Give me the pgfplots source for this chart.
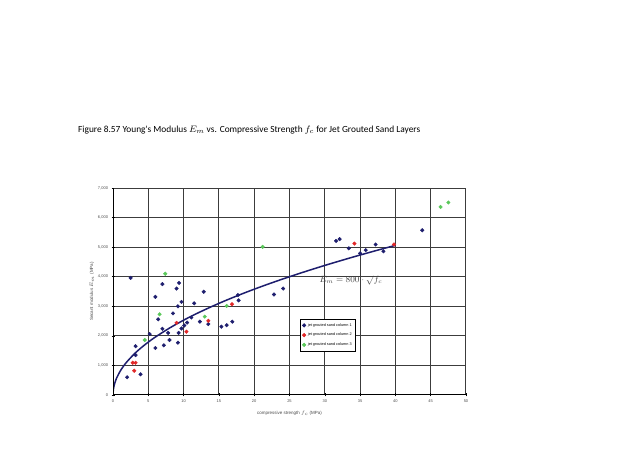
\documentclass[border=0pt]{standalone}
\usepackage{pgfplots}
\pgfplotsset{compat=1.18}
\usepackage{fontspec}
\setmainfont{Liberation Sans}
\newfontfamily\titlefont{Carlito}
\definecolor{navy}{RGB}{30,30,110}
\definecolor{cred}{RGB}{225,40,40}
\definecolor{cgreen}{RGB}{90,200,90}
\definecolor{gridgray}{RGB}{60,60,60}
\begin{document}
\begin{tikzpicture}
\fill[white] (0,0) rectangle (622bp,455bp);
\node[anchor=west,inner sep=0pt] at (78bp,325bp) {\resizebox{342bp}{!}{\titlefont\fontsize{8bp}{9bp}\selectfont Figure 8.57 Young's Modulus $E_{m}$ vs. Compressive Strength $f_c$ for Jet Grouted Sand Layers}};
\begin{axis}[
  at={(113bp,60bp)}, anchor=south west,
  width=353bp, height=207bp, scale only axis,
  xmin=0, xmax=50, ymin=0, ymax=7000,
  xtick={0,5,...,50}, ytick={0,1000,...,7000},
  axis line style={gridgray, line width=1bp},
  xmajorgrids=true, ymajorgrids=true,
  major grid style={gridgray, line width=1bp},
  tick style={black, line width=0.5bp}, tick align=center,
  major tick length=3bp,
  xtick pos=bottom, ytick pos=left,
  /pgf/number format/assume math mode=true,
  /pgf/number format/1000 sep={,},
  ticklabel style={font=\fontsize{4bp}{5bp}\selectfont, text=black!70},
  xlabel={compressive strength $f_c$ (MPa)},
  ylabel={Secant modulus $E_{m}$ (MPa)},
  label style={font=\fontsize{4.5bp}{5.5bp}\selectfont, text=black!70},
  xlabel style={at={(axis description cs:0.5,-0.087)}, anchor=center},
  ylabel style={at={(axis description cs:-0.06,0.5)}, anchor=center},
  legend style={at={(0.53,0.367)}, anchor=north west, font=\fontsize{3.8bp}{4.5bp}\selectfont,
    draw=black, line width=0.5bp, inner sep=2bp, row sep=1.5bp, fill=white},
  legend cell align=left,
]
\addplot[only marks, mark=*, mark size=1.8bp, color=navy] coordinates {
(2.5,3960) (2.0,600) (3.9,700) (3.2,1650) (3.2,1350) (5.2,2060) (6.0,1590) (6.0,3320)
(6.4,2560) (7.0,3750) (7.0,2240) (7.2,1680) (8.0,1860) (7.8,2100) (8.5,2760) (9.0,3600)
(9.35,3790) (9.2,3000) (9.7,3150) (9.2,1770) (9.3,2100) (9.7,2250) (10.1,2350) (10.5,2450)
(11.1,2620) (11.5,3100) (12.3,2480) (12.85,3490) (13.5,2400) (15.35,2310) (16.1,2360)
(16.9,2480) (17.7,3380) (17.8,3200) (22.8,3400) (24.1,3600) (31.6,5210) (32.1,5270)
(33.4,4960) (35.0,4790) (35.8,4900) (37.2,5090) (38.3,4860) (43.8,5570)
};
\addlegendentry{jet grouted sand column 1}
\addplot[only marks, mark=*, mark size=1.8bp, color=cred] coordinates {
(2.8,1090) (3.2,1090) (3.0,820) (9.0,2440) (10.4,2140) (13.5,2510) (16.85,3070) (34.2,5120) (39.8,5090)
};
\addlegendentry{jet grouted sand column 2}
\addplot[only marks, mark=*, mark size=1.8bp, color=cgreen] coordinates {
(4.5,1860) (6.6,2730) (7.4,4100) (13.0,2650) (16.1,3010) (21.2,5010) (46.4,6360) (47.5,6510)
};
\addlegendentry{jet grouted sand column 3}
\addplot[navy, line width=1.5bp, smooth, forget plot] coordinates {
(0,0) (0.05,179) (0.1,253) (0.25,400) (0.5,566) (1,800) (1.5,980) (2,1131) (3,1386) (4,1600)
(5,1789) (6,1960) (8,2263) (10,2530) (12,2771) (14,2993) (16,3200) (18,3394) (20,3578)
(22,3752) (24,3919) (26,4079) (28,4233) (30,4382) (32,4525) (34,4665) (36,4800) (38,4932) (40,5060)
};
\node[font=\fontsize{8.5bp}{9bp}\selectfont, text=black!75] at (axis cs:33.7,3885) {$E_{m} = 800\cdot\sqrt{f_c}$};
\draw[black, line width=1.1bp] (axis cs:0,0) -- (axis cs:50,0);
\draw[black, line width=1.1bp] (axis cs:0,0) -- (axis cs:0,7000);
\end{axis}
\end{tikzpicture}
\end{document}
